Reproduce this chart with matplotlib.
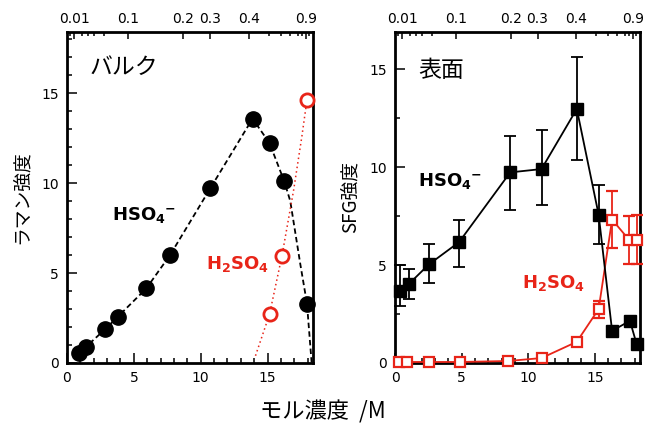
import numpy as np
import matplotlib
matplotlib.use('Agg')
import matplotlib.pyplot as plt
from matplotlib.ticker import MultipleLocator

plt.rcParams['font.family'] = ['DejaVu Sans', 'Noto Sans CJK JP']
plt.rcParams['mathtext.fontset'] = 'dejavusans'
jp = ['Noto Sans CJK JP', 'DejaVu Sans']
red = '#e82418'

# Bulk (Raman) data
raman_hso4_m = [0.87, 1.44, 2.86, 3.79, 5.93, 7.73, 10.72, 13.88, 15.15, 16.25, 17.95]
raman_hso4_i = [0.57, 0.91, 1.88, 2.56, 4.14, 6.02, 9.71, 13.58, 12.22, 10.1, 3.3]
raman_hso4_fit_m = [0.8, 0.87, 1.44, 2.86, 3.79, 5.93, 7.73, 10.72, 13.88, 15.15, 16.25, 16.7, 17.45, 17.95, 18.3]
raman_hso4_fit_i = [0.4, 0.57, 0.91, 1.88, 2.56, 4.14, 6.02, 9.71, 13.58, 12.22, 10.1, 9.0, 5.5, 3.3, 0.0]
raman_h2so4_m = [15.15, 16.08, 17.95]
raman_h2so4_i = [2.71, 5.96, 14.63]
raman_h2so4_fit_m = [14.1, 15.15, 16.08, 16.95, 17.57, 17.95]
raman_h2so4_fit_i = [0.4, 2.71, 5.96, 9.6, 12.6, 14.63]

# Surface (SFG) data
sfg_hso4_m = [0.39, 1.02, 2.54, 4.81, 8.65, 11.0, 13.65, 15.29, 16.3, 17.64, 18.14]
sfg_hso4_i = [3.68, 4.02, 5.03, 6.17, 9.73, 9.9, 12.97, 7.57, 1.64, 2.15, 0.97]
sfg_hso4_lo = [2.9, 3.25, 4.1, 4.9, 7.8, 8.06, 10.35, 6.05, 1.64, 2.15, 0.97]
sfg_hso4_hi = [5.0, 4.8, 6.05, 7.3, 11.6, 11.9, 15.6, 9.1, 1.64, 2.15, 0.97]
sfg_h2so4_m = [0.27, 0.9, 2.54, 4.9, 8.5, 11.0, 13.65, 15.29, 16.3, 17.56, 18.14]
sfg_h2so4_i = [0.05, 0.05, 0.05, 0.05, 0.1, 0.25, 1.08, 2.75, 7.32, 6.3, 6.3]
sfg_h2so4_lo = [0.05, 0.05, 0.05, 0.05, 0.1, 0.25, 1.08, 2.32, 5.88, 5.03, 5.03]
sfg_h2so4_hi = [0.05, 0.05, 0.05, 0.05, 0.1, 0.25, 1.08, 3.17, 8.76, 7.49, 7.55]

# top axis: mole fraction positions (in M)
top_major = [0.55, 4.6, 8.7, 10.7, 13.6, 17.85]
top_labels = ['0.01', '0.1', '0.2', '0.3', '0.4', '0.9']
top_minor = [0.2, 1.1, 1.6, 2.0, 2.75, 15.1, 16.0, 16.7, 17.3, 17.55, 18.1]

fig = plt.figure(figsize=(6.46, 4.25), dpi=100)
ax1 = fig.add_axes([0.1037, 0.146, 0.3808, 0.7788])
ax2 = fig.add_axes([0.6115, 0.146, 0.3793, 0.7788])


def style(ax, ymax, yminor):
    ax.set_xlim(0, 18.4)
    ax.set_ylim(0, ymax)
    ax.xaxis.set_major_locator(MultipleLocator(5))
    ax.xaxis.set_minor_locator(MultipleLocator(1))
    ax.yaxis.set_major_locator(MultipleLocator(5))
    ax.yaxis.set_minor_locator(MultipleLocator(yminor))
    ax.tick_params(which='both', direction='in', top=False, right=False, width=1.1, labelsize=10)
    ax.tick_params(which='major', length=7, pad=6)
    ax.tick_params(which='minor', length=3.5)
    for s in ax.spines.values():
        s.set_linewidth(2)
    top = ax.twiny()
    top.set_xlim(0, 18.4)
    top.set_xticks(top_major)
    top.set_xticklabels(top_labels)
    top.set_xticks(top_minor, minor=True)
    top.tick_params(which='both', direction='in', width=1.1, labelsize=10, pad=4)
    top.tick_params(which='major', length=5)
    top.tick_params(which='minor', length=3)
    for s in top.spines.values():
        s.set_visible(False)


style(ax1, 18.4, 1)
style(ax2, 16.9, 2.5)

hso4_txt = r'HSO$_\mathbf{4}$$^{\mathbf{-}}$'
h2so4_txt = r'H$_\mathbf{2}$SO$_\mathbf{4}$'

# left: bulk
ax1.plot(raman_hso4_fit_m, raman_hso4_fit_i, color='black', lw=1.3, ls=(0, (3, 1.8)))
ax1.plot(raman_h2so4_fit_m, raman_h2so4_fit_i, color=red, lw=1.1, ls=(0, (1, 2)))
ax1.plot(raman_hso4_m, raman_hso4_i, 'o', color='black', ms=11, clip_on=False, zorder=5)
ax1.plot(raman_h2so4_m, raman_h2so4_i, 'o', mfc='white', mec=red, mew=2, ms=9.5,
         clip_on=False, zorder=5)
ax1.text(1.7, 16.4, 'バルク', fontsize=16.5, family=jp, va='center')
ax1.text(3.4, 8.2, hso4_txt, fontsize=13, fontweight='bold', va='center')
ax1.text(10.4, 5.5, h2so4_txt, fontsize=13, fontweight='bold', color=red, va='center')
ax1.set_ylabel('ラマン強度', family=jp, fontsize=13.5, labelpad=7)

# right: surface
ax2.errorbar(sfg_h2so4_m, sfg_h2so4_i,
             yerr=[np.array(sfg_h2so4_i) - np.array(sfg_h2so4_lo),
                   np.array(sfg_h2so4_hi) - np.array(sfg_h2so4_i)],
             color=red, lw=1.3, elinewidth=1.3, capsize=4, capthick=1.3,
             marker='s', ms=7, mfc='white', mec=red, mew=1.6, clip_on=False, zorder=4)
ax2.errorbar(sfg_hso4_m, sfg_hso4_i,
             yerr=[np.array(sfg_hso4_i) - np.array(sfg_hso4_lo),
                   np.array(sfg_hso4_hi) - np.array(sfg_hso4_i)],
             color='black', lw=1.3, elinewidth=1.3, capsize=4.5, capthick=1.3,
             marker='s', ms=8.5, clip_on=False, zorder=5)
ax2.text(1.75, 14.95, '表面', fontsize=16.5, family=jp, va='center')
ax2.text(1.75, 9.3, hso4_txt, fontsize=13, fontweight='bold', va='center')
ax2.text(9.5, 4.1, h2so4_txt, fontsize=13, fontweight='bold', color=red, va='center')
ax2.set_ylabel('SFG強度', family=jp, fontsize=13.5, labelpad=6)

fig.text(0.5, 0.03, 'モル濃度  /M', family=jp, fontsize=16, ha='center', va='center')

fig.savefig('out.png', dpi=100)
